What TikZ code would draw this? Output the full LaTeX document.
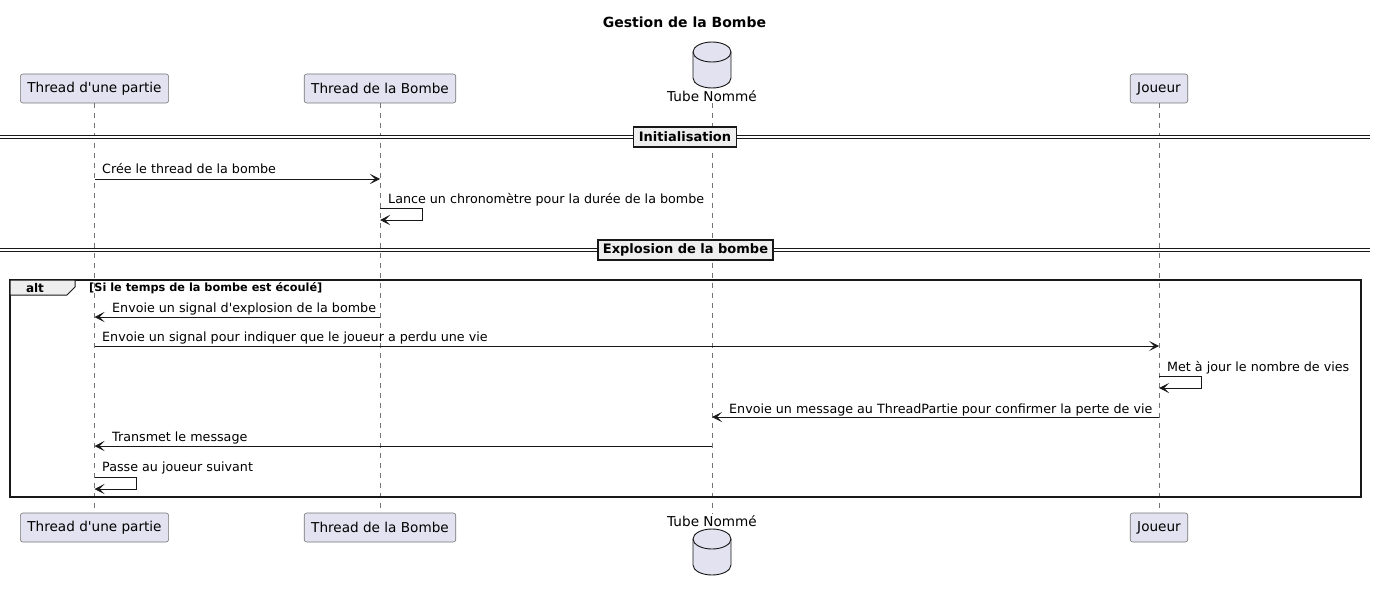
\documentclass[tikz,border=0pt]{standalone}
\usepackage{fontspec}
\setmainfont{DejaVu Sans}[Ligatures=TeXOff]
\usetikzlibrary{arrows.meta}
\definecolor{partfill}{HTML}{E2E2F0}
\definecolor{partline}{HTML}{181818}
\definecolor{divfill}{HTML}{EEEEEE}
\tikzset{
  actor/.style={draw=partline!60,fill=partfill,rounded corners=2.5pt,line width=0.6pt,
    minimum height=29pt,inner xsep=7pt,font=\fontsize{13.6}{16}\selectfont},
  tube/.pic={
    \draw[partline,fill=partfill,line width=0.9pt] (-19,-13) -- (-19,13)
      arc[start angle=180,end angle=0,x radius=19,y radius=10] -- (19,-13)
      arc[start angle=0,end angle=-180,x radius=19,y radius=10];
    \draw[partline,line width=0.9pt] (-19,-13) arc[start angle=180,end angle=0,x radius=19,y radius=10];
  },
  tubename/.style={font=\fontsize{13.6}{16}\selectfont,inner sep=1pt},
  lifeline/.style={draw=partline!60,line width=0.5pt,dash pattern=on 5pt off 5pt},
  msg/.style={draw=partline,line width=0.7pt,-{Stealth[length=10pt,width=10pt,inset=5pt]}},
  msglabel/.style={font=\fontsize{12.7}{15}\selectfont,inner sep=0pt,anchor=base west},
  divider/.style={draw=partline,fill=divfill,line width=1.2pt,inner xsep=5pt,minimum height=20pt,
    font=\bfseries\fontsize{13}{15}\selectfont},
  divline/.style={draw=partline,double=white,double distance=2pt,line width=0.7pt},
}
\begin{document}
\begin{tikzpicture}[x=1pt,y=-1pt]
  \useasboundingbox (0,0) rectangle (1376,591);
  \node[font=\bfseries\fontsize{14}{16}\selectfont] (title) at (684.5,22) {Gestion de la Bombe};

  % participants
  \node[actor] (ptop) at (94.5,88.5) {Thread d'une partie};
  \node[actor] (btop) at (380,88.5) {Thread de la Bombe};
  \pic at (712,65) {tube};
  \node[tubename] (ttop) at (712,96) {Tube Nommé};
  \node[actor] (jtop) at (1159,88.5) {Joueur};
  \node[actor] (pbot) at (94.5,527.5) {Thread d'une partie};
  \node[actor] (bbot) at (380,527.5) {Thread de la Bombe};
  \node[tubename] (tbot) at (712,521) {Tube Nommé};
  \pic at (712,552) {tube};
  \node[actor] (jbot) at (1159,527.5) {Joueur};

  \draw[lifeline] (ptop) -- (pbot);
  \draw[lifeline] (btop) -- (bbot);
  \draw[lifeline] (ttop) -- (tbot);
  \draw[lifeline] (jtop) -- (jbot);

  % Initialisation
  \coordinate (d1) at (0,137);
  \coordinate (d1e) at (1370,137);
  \draw[divline] (d1) -- (d1e);
  \node[divider] (init) at (685,137) {Initialisation\hspace{6pt}};

  \coordinate (r1) at (0,179);
  \draw[msg] (ptop |- r1) -- (btop |- r1);
  \node[msglabel] (l1) at (102,174) {Crée le thread de la bombe};

  \coordinate (r2) at (0,208);
  \draw[msg] (btop |- r2) -- ++(42,0) -- ++(0,12) -- ++(-42,0);
  \node[msglabel] (l2) at (388,203) {Lance un chronomètre pour la durée de la bombe};

  % Explosion de la bombe
  \coordinate (d2) at (0,250);
  \coordinate (d2e) at (1370,250);
  \draw[divline] (d2) -- (d2e);
  \node[divider] (explo) at (685.5,250) {Explosion de la bombe\hspace{6pt}};

  % alt frame
  \draw[partline,line width=1.4pt] (10,280) rectangle (1361,497);
  \draw[partline,fill=divfill,line width=1pt] (10,280) -- (75,280) -- (75,287) -- (67,295) -- (10,295) -- cycle;
  \node[font=\bfseries\fontsize{12}{14}\selectfont,inner sep=0pt] (alt) at (35,288) {alt};
  \node[font=\bfseries\fontsize{11.3}{13}\selectfont,inner sep=0pt,anchor=base west] (guard) at (89,291)
    {[Si le temps de la bombe est écoulé]};

  \coordinate (r3) at (0,317);
  \draw[msg] (btop |- r3) -- (ptop |- r3);
  \node[msglabel] (l3) at (112,312) {Envoie un signal d'explosion de la bombe};

  \coordinate (r4) at (0,346);
  \draw[msg] (ptop |- r4) -- (jtop |- r4);
  \node[msglabel] (l4) at (102,341) {Envoie un signal pour indiquer que le joueur a perdu une vie};

  \coordinate (r5) at (0,376);
  \draw[msg] (jtop |- r5) -- ++(42,0) -- ++(0,12) -- ++(-42,0);
  \node[msglabel] (l5) at (1167,371) {Met à jour le nombre de vies};

  \coordinate (r6) at (0,417);
  \draw[msg] (jtop |- r6) -- (ttop |- r6);
  \node[msglabel] (l6) at (729,413) {Envoie un message au ThreadPartie pour confirmer la perte de vie};

  \coordinate (r7) at (0,446);
  \draw[msg] (ttop |- r7) -- (ptop |- r7);
  \node[msglabel] (l7) at (112,441) {Transmet le message};

  \coordinate (r8) at (0,477);
  \draw[msg] (ptop |- r8) -- ++(42,0) -- ++(0,12) -- ++(-42,0);
  \node[msglabel] (l8) at (102,471) {Passe au joueur suivant};
\end{tikzpicture}
\end{document}
